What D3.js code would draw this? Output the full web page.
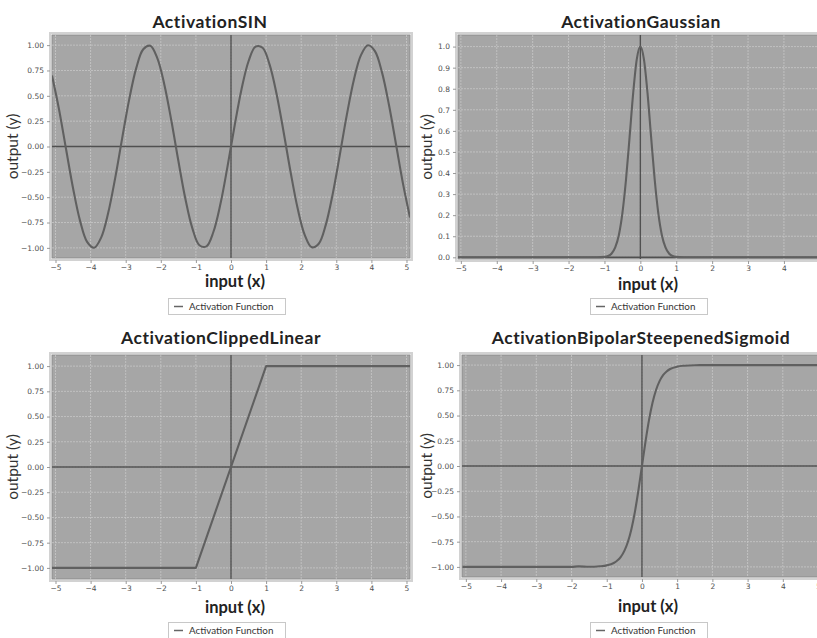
<!DOCTYPE html>
<html><head><meta charset="utf-8">
<script src="https://cdn.jsdelivr.net/npm/d3@7"></script>
<style>
html,body{margin:0;padding:0;background:#fff;overflow:hidden;}
svg{display:block;}
</style></head>
<body>
<svg id="c" width="817" height="638"></svg>
<script>
// ---------- data ----------
const titles = ["ActivationSIN", "ActivationGaussian", "ActivationClippedLinear", "ActivationBipolarSteepenedSigmoid"];
const xTicks = [-5, -4, -3, -2, -1, 0, 1, 2, 3, 4, 5];
const yTicksQuarter = [-1, -0.75, -0.5, -0.25, 0, 0.25, 0.5, 0.75, 1];
const yTicksTenth = [0, 0.1, 0.2, 0.3, 0.4, 0.5, 0.6, 0.7, 0.8, 0.9, 1.0];

const sinX = [-5.1,-4.9,-4.7,-4.5,-4.3,-4.1,-3.9,-3.7,-3.5,-3.3,-3.1,-2.9,-2.7,-2.5,-2.3,-2.1,-1.9,-1.7,-1.5,-1.3,-1.1,-0.9,-0.7,-0.5,-0.3,-0.1,
  0.1,0.3,0.5,0.7,0.9,1.1,1.3,1.5,1.7,1.9,2.1,2.3,2.5,2.7,2.9,3.1,3.3,3.5,3.7,3.9,4.1,4.3,4.5,4.7,4.9,5.1];
const sinY = [0.700,0.366,-0.025,-0.412,-0.734,-0.941,-0.999,-0.899,-0.657,-0.312,0.083,0.465,0.773,0.959,0.994,0.872,0.612,0.256,-0.141,-0.516,-0.808,-0.974,-0.985,-0.841,-0.565,-0.199,
  0.199,0.565,0.841,0.985,0.974,0.808,0.516,0.141,-0.256,-0.612,-0.872,-0.994,-0.959,-0.773,-0.465,-0.083,0.312,0.657,0.899,0.999,0.941,0.734,0.412,0.025,-0.366,-0.700];

const gaussX = [-5.1,-1.2,-1.0,-0.9,-0.8,-0.7,-0.6,-0.5,-0.4,-0.3,-0.2,-0.1,0,0.1,0.2,0.3,0.4,0.5,0.6,0.7,0.8,0.9,1.0,1.2,5.1];
const gaussY = [0,0,0.002,0.006,0.018,0.047,0.105,0.210,0.368,0.570,0.779,0.939,1.0,0.939,0.779,0.570,0.368,0.210,0.105,0.047,0.018,0.006,0.002,0,0];

const clipX = [-5.1,-1,1,5.1];
const clipY = [-1,-1,1,1];

const sigX = [-5.1,-2,-1.8,-1.5,-1.2,-1.0,-0.8,-0.7,-0.6,-0.5,-0.4,-0.3,-0.2,-0.1,0,0.1,0.2,0.3,0.4,0.5,0.6,0.7,0.8,1.0,1.2,1.5,2,5.1];
const sigY = [-1,-1,-0.995,-0.999,-0.994,-0.985,-0.961,-0.937,-0.900,-0.841,-0.753,-0.626,-0.454,-0.240,0,0.240,0.454,0.626,0.753,0.841,0.900,0.937,0.961,0.985,0.994,0.999,1,1];

// ---------- layout ----------
const panels = [
  {title: titles[0], xs: sinX, ys: sinY, yTicks: yTicksQuarter, fmt: d3.format(".2f"), curve: d3.curveCatmullRom,
   px: [52, 410], py: [35, 258], xd: [-5.1, 5.1], yd: [-1.1, 1.1],
   tx: 210, ty: 28, xlx: 235, xly: 287, ylx: 18, leg: [168, 298]},
  {title: titles[1], xs: gaussX, ys: gaussY, yTicks: yTicksTenth, fmt: d3.format(".1f"), curve: d3.curveMonotoneX,
   px: [458, 822.7], py: [35, 259], xd: [-5.08, 5.08], yd: [-0.008, 1.055],
   tx: 641, ty: 28, xlx: 648, xly: 290, ylx: 432, leg: [590, 298]},
  {title: titles[2], xs: clipX, ys: clipY, yTicks: yTicksQuarter, fmt: d3.format(".2f"), curve: d3.curveLinear,
   px: [52, 410], py: [355, 579], xd: [-5.1, 5.1], yd: [-1.11, 1.11],
   tx: 221, ty: 343.5, xlx: 235, xly: 613, ylx: 18, leg: [168, 622]},
  {title: titles[3], xs: sigX, ys: sigY, yTicks: yTicksQuarter, fmt: d3.format(".2f"), curve: d3.curveMonotoneX,
   px: [462, 821.9], py: [355, 577], xd: [-5.11, 5.11], yd: [-1.1, 1.1],
   tx: 641, ty: 343.5, xlx: 648, xly: 612, ylx: 432, leg: [590, 622]}
];

const svg = d3.select("#c");

panels.forEach((p, i) => {
  const g = svg.append("g");
  const x = d3.scaleLinear().domain(p.xd).range(p.px);
  const y = d3.scaleLinear().domain(p.yd).range([p.py[1], p.py[0]]);
  const W = p.px[1] - p.px[0], H = p.py[1] - p.py[0];

  // title
  g.append("text").attr("x", p.tx).attr("y", p.ty).attr("text-anchor", "middle")
    .style("font-family", "Lato, 'Open Sans', sans-serif").style("font-weight", "bold")
    .style("font-size", "17.5px").style("letter-spacing", "0.55px")
    .attr("fill", "#222").text(p.title);

  // outer light border
  g.append("rect").attr("x", p.px[0] - 2).attr("y", p.py[0] - 2).attr("width", W + 4).attr("height", H + 4)
    .attr("fill", "none").attr("stroke", "#d2d2d2").attr("stroke-width", 2);
  // plot background
  g.append("rect").attr("x", p.px[0]).attr("y", p.py[0]).attr("width", W).attr("height", H)
    .attr("fill", "#a6a6a6").attr("stroke", "#8c8c8c").attr("stroke-width", 1);

  const clipId = "clip" + i;
  g.append("clipPath").attr("id", clipId).append("rect")
    .attr("x", p.px[0]).attr("y", p.py[0]).attr("width", W).attr("height", H);
  const inner = g.append("g").attr("clip-path", `url(#${clipId})`);

  // grid
  inner.selectAll(".vg").data(xTicks).join("line")
    .attr("x1", d => x(d)).attr("x2", d => x(d)).attr("y1", p.py[0]).attr("y2", p.py[1])
    .attr("stroke", "#c8c8c8").attr("stroke-width", 0.8).attr("stroke-dasharray", "2,1");
  inner.selectAll(".hg").data(p.yTicks).join("line")
    .attr("x1", p.px[0]).attr("x2", p.px[1]).attr("y1", d => y(d)).attr("y2", d => y(d))
    .attr("stroke", "#c8c8c8").attr("stroke-width", 0.8).attr("stroke-dasharray", "2,1");

  // zero lines
  inner.append("line").attr("x1", x(0)).attr("x2", x(0)).attr("y1", p.py[0]).attr("y2", p.py[1])
    .attr("stroke", "#505050").attr("stroke-width", 1.4);
  inner.append("line").attr("x1", p.px[0]).attr("x2", p.px[1]).attr("y1", y(0)).attr("y2", y(0))
    .attr("stroke", "#505050").attr("stroke-width", 1.4);

  // curve
  const pts = p.xs.map((v, k) => [v, p.ys[k]]);
  const line = d3.line().x(d => x(d[0])).y(d => y(d[1])).curve(p.curve);
  inner.append("path").datum(pts).attr("d", line)
    .attr("fill", "none").attr("stroke", "#606060").attr("stroke-width", 2.1)
    .attr("stroke-linejoin", "round");

  // axes
  const xa = g.append("g").attr("transform", `translate(0,${p.py[1] + 2})`)
    .call(d3.axisBottom(x).tickValues(xTicks).tickSize(3).tickPadding(2).tickFormat(d3.format("d")));
  const ya = g.append("g").attr("transform", `translate(${p.px[0] - 2},0)`)
    .call(d3.axisLeft(y).tickValues(p.yTicks).tickSize(3).tickPadding(3).tickFormat(p.fmt));
  [xa, ya].forEach(a => {
    a.select(".domain").remove();
    a.selectAll(".tick line").attr("stroke", "#999");
    a.selectAll(".tick text").attr("fill", "#505050")
      .style("font-family", "'DejaVu Sans', sans-serif").style("font-size", "7.5px");
  });

  // axis labels
  g.append("text").attr("x", p.xlx).attr("y", p.xly).attr("text-anchor", "middle")
    .style("font-family", "Lato, sans-serif").style("font-weight", "bold").style("font-size", "16.5px")
    .attr("fill", "#222").text("input (x)");
  g.append("text").attr("transform", `translate(${p.ylx},${(p.py[0] + p.py[1]) / 2}) rotate(-90)`)
    .attr("text-anchor", "middle")
    .style("font-family", "Lato, sans-serif").style("font-size", "15.5px")
    .attr("fill", "#333").text("output (y)");

  // legend
  const lg = g.append("g").attr("transform", `translate(${p.leg[0]},${p.leg[1]})`);
  lg.append("rect").attr("x", 0.5).attr("y", 0.5).attr("width", 117).attr("height", 16)
    .attr("fill", "#fff").attr("stroke", "#c8c8c8");
  lg.append("line").attr("x1", 6).attr("x2", 15).attr("y1", 8.5).attr("y2", 8.5)
    .attr("stroke", "#666").attr("stroke-width", 1.5);
  lg.append("text").attr("x", 21).attr("y", 12)
    .style("font-family", "Lato, sans-serif").style("font-size", "9.8px")
    .attr("fill", "#333").text("Activation Function");
});
</script>
</body></html>
